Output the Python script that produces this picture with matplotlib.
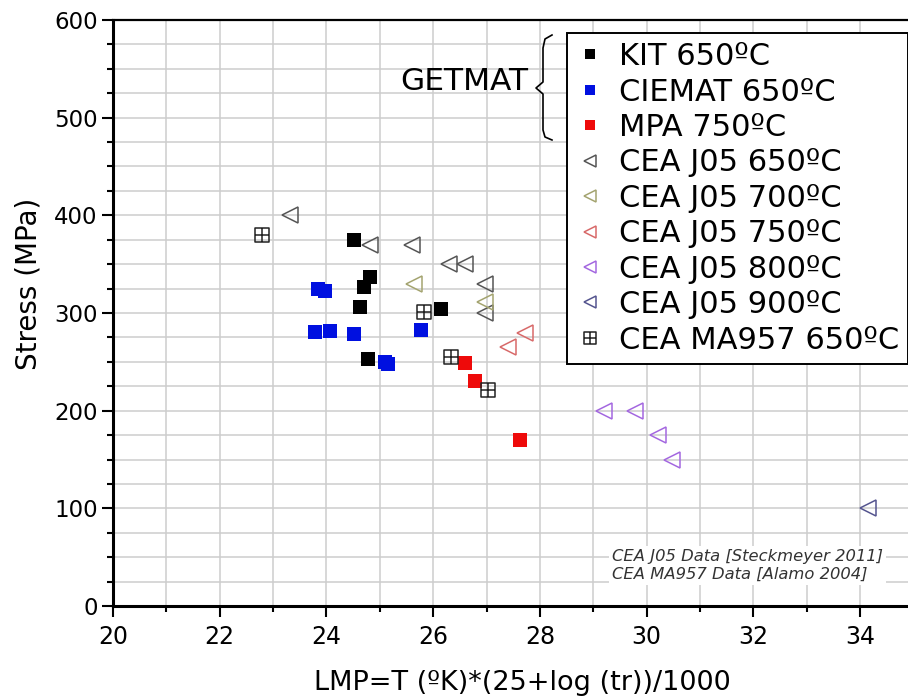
import numpy as np
import matplotlib
matplotlib.use("Agg")
import matplotlib.pyplot as plt
from matplotlib.path import Path
from matplotlib.ticker import MultipleLocator

plt.rcParams['font.family'] = ['DejaVu Sans']

# data (LMP, stress MPa)
kit_x = [24.52, 24.82, 24.70, 24.62, 26.15, 24.77]
kit_y = [375, 337, 327, 306, 304, 253]
ciemat_x = [23.85, 23.97, 23.78, 24.07, 24.52, 25.10, 25.16, 25.77]
ciemat_y = [325, 323, 281, 282, 278, 250, 248, 283]
mpa_x = [26.60, 26.79, 27.62]
mpa_y = [249, 230, 170]
j05_650_x = [23.32, 24.82, 25.61, 26.30, 26.60, 26.98, 26.98]
j05_650_y = [400, 370, 370, 350, 350, 330, 300]
j05_700_x = [25.65, 26.98]
j05_700_y = [330, 311]
j05_750_x = [27.41, 27.73]
j05_750_y = [265, 280]
j05_800_x = [29.20, 29.78, 30.21, 30.48]
j05_800_y = [200, 200, 175, 150]
j05_900_x = [34.14]
j05_900_y = [100]
ma957_x = [22.80, 25.82, 26.33, 27.02]
ma957_y = [380, 301, 255, 221]

# square with a cross inside
box_plus = Path([(-1, -1), (1, -1), (1, 1), (-1, 1), (-1, -1),
                 (0, -1), (0, 1), (-1, 0), (1, 0)],
                [Path.MOVETO, Path.LINETO, Path.LINETO, Path.LINETO, Path.CLOSEPOLY,
                 Path.MOVETO, Path.LINETO, Path.MOVETO, Path.LINETO])

fig = plt.figure(figsize=(9.08, 7.0), dpi=100)
ax = fig.add_axes([113/908, 94/700, 795/908, 586/700])

sq = dict(marker='s', ms=9.6, ls='none', mew=0)
tri = dict(marker='<', ms=11.5, ls='none', mfc='none', mew=1.1)

ax.plot(kit_x, kit_y, color='black', label='KIT 650ºC', **sq)
ax.plot(ciemat_x, ciemat_y, color='#0010e0', label='CIEMAT 650ºC', **sq)
ax.plot(mpa_x, mpa_y, color='#ee0a0a', label='MPA 750ºC', **sq)
ax.plot(j05_650_x, j05_650_y, mec='#555555', label='CEA J05 650ºC', **tri)
ax.plot(j05_700_x, j05_700_y, mec='#a4a470', label='CEA J05 700ºC', **tri)
ax.plot(j05_750_x, j05_750_y, mec='#d86a6a', label='CEA J05 750ºC', **tri)
ax.plot(j05_800_x, j05_800_y, mec='#a468e0', label='CEA J05 800ºC', **tri)
ax.plot(j05_900_x, j05_900_y, mec='#55558f', label='CEA J05 900ºC', **tri)
ax.plot(ma957_x, ma957_y, marker=box_plus, ms=10, ls='none', mfc='none',
        mec='#222222', mew=1.1, label='CEA MA957 650ºC')

ax.set_xlim(20, 20 + 795/53.36)
ax.set_ylim(0, 600)
ax.xaxis.set_major_locator(MultipleLocator(2))
ax.xaxis.set_minor_locator(MultipleLocator(1))
ax.yaxis.set_major_locator(MultipleLocator(100))
ax.yaxis.set_minor_locator(MultipleLocator(25))
ax.grid(which='both', color='#cdcdcd', lw=1.1)
ax.set_axisbelow(True)

ax.spines['right'].set_visible(False)
ax.spines['left'].set_linewidth(2.2)
ax.spines['bottom'].set_linewidth(2.2)
ax.spines['top'].set_linewidth(1.6)
ax.tick_params(which='major', direction='out', length=8, width=1.5)
ax.tick_params(axis='x', which='major', pad=5.5, labelsize=17)
ax.tick_params(axis='y', which='major', pad=3, labelsize=16.5)
ax.tick_params(which='minor', direction='out', length=4.3, width=1.5)

ax.set_xlabel('LMP=T (ºK)*(25+log (tr))/1000', fontsize=19.5)
ax.xaxis.label.set_va('baseline')
ax.xaxis.set_label_coords((522 - 113)/795, -(690 - 606)/586)
ax.set_ylabel('Stress (MPa)', fontsize=20)
ax.yaxis.label.set_va('baseline')
ax.yaxis.set_label_coords((36 - 113)/795, (606 - 284)/586)

leg = ax.legend(loc='upper left', bbox_to_anchor=(567/908, 1 - 33/700),
                bbox_transform=fig.transFigure, fontsize=22, frameon=True,
                fancybox=False, edgecolor='black', framealpha=1,
                markerscale=0.8, handlelength=0.9, handletextpad=0.5,
                labelspacing=0.21, borderpad=0.3, borderaxespad=0)
leg.get_frame().set_linewidth(1.4)

fig.text(528/908, 1 - 82/700, 'GETMAT', fontsize=22.5, ha='right', va='center')
# curly brace
bx = [552, 545, 543, 543, 536, 543, 543, 545, 552]
by = [35, 39, 48, 82, 88, 94, 130, 137, 140]
fig.add_artist(plt.Line2D([v/908 for v in bx], [1 - v/700 for v in by],
                          color='black', lw=1.2, transform=fig.transFigure))

ax.text((612 - 113)/795, (606 - 549)/586,
        'CEA J05 Data [Steckmeyer 2011]\nCEA MA957 Data [Alamo 2004]',
        transform=ax.transAxes, fontsize=11.8, style='italic', ha='left', va='top',
        color='#333333', linespacing=1.25,
        bbox=dict(facecolor='white', edgecolor='none', pad=2))

fig.savefig('out.png', dpi=100)
